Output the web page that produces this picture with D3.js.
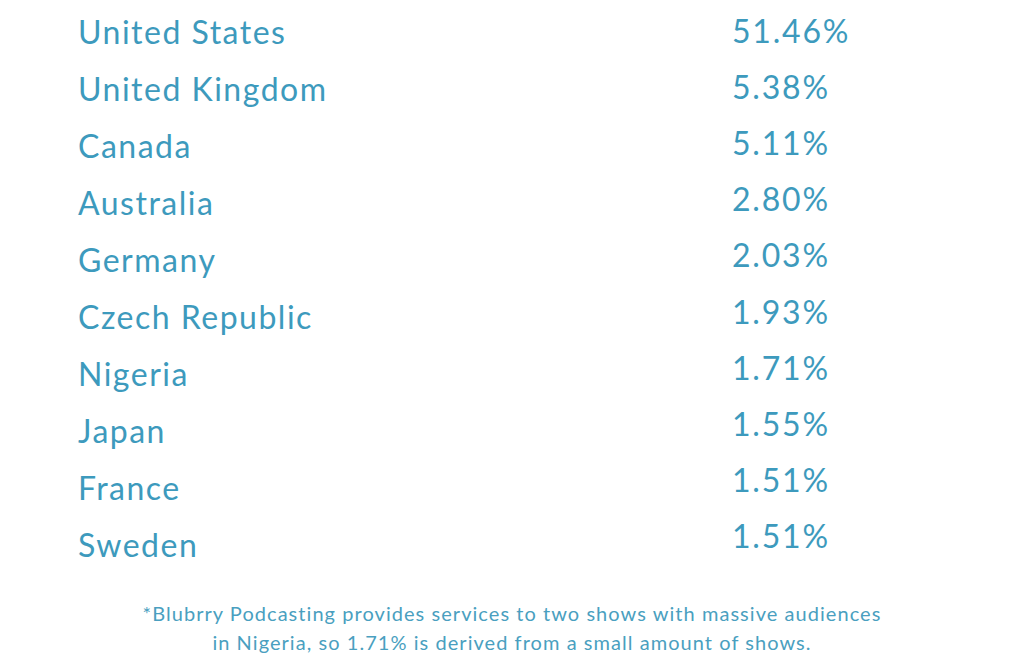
<!DOCTYPE html>
<html lang="en">
<head>
	<meta charset="UTF-8">
	<title>Top Countries</title>
	<script src="https://d3js.org/d3.v7.min.js"></script>
	<style>
		* { margin: 0px; padding: 0px; }
		body { background: #fff; }
		text { font-family: "Lato", "Open Sans", sans-serif; }
	</style>
</head>
<body>
	<svg width="1024" height="671"></svg>
	<script>
		var countries = ["United States", "United Kingdom", "Canada", "Australia", "Germany",
			"Czech Republic", "Nigeria", "Japan", "France", "Sweden"];
		var shares = [51.46, 5.38, 5.11, 2.80, 2.03, 1.93, 1.71, 1.55, 1.51, 1.51];
		var footnote = [
			"*Blubrry Podcasting provides services to two shows with massive audiences",
			"in Nigeria, so 1.71% is derived from a small amount of shows."
		];

		var svg = d3.select("svg");
		var color = "#3d9abd";

		// country names and values sit on slightly different row spacing
		var yName = d3.scalePoint().domain(d3.range(countries.length)).range([44, 557]);
		var yVal = d3.scalePoint().domain(d3.range(shares.length)).range([43, 548]);

		svg.append("g")
			.selectAll("text")
			.data(countries)
			.enter()
			.append("text")
			.attr("x", 78)
			.attr("y", (d, i) => yName(i))
			.attr("fill", color)
			.style("font-size", "32px")
			.style("letter-spacing", "1.5px")
			.text(d => d);

		svg.append("g")
			.selectAll("text")
			.data(shares)
			.enter()
			.append("text")
			.attr("x", 732)
			.attr("y", (d, i) => yVal(i))
			.attr("fill", color)
			.style("font-size", "32px")
			.style("letter-spacing", "1.8px")
			.text(d => d.toFixed(2) + "%");

		svg.append("g")
			.selectAll("text")
			.data(footnote)
			.enter()
			.append("text")
			.attr("x", 512)
			.attr("y", (d, i) => 621 + i * 29)
			.attr("text-anchor", "middle")
			.attr("fill", "#4a9fc0")
			.style("font-size", "20px")
			.style("letter-spacing", "1.05px")
			.text(d => d);
	</script>
</body>
</html>
